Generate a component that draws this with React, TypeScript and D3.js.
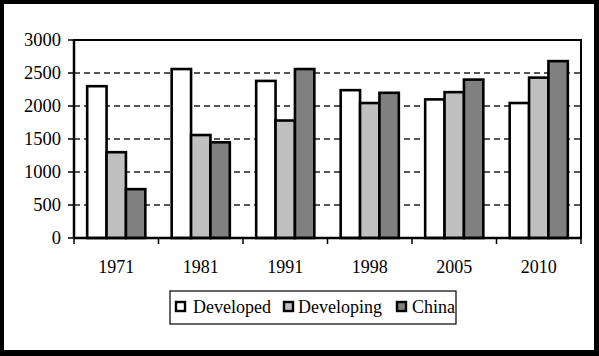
import React from "react";
import * as d3 from "d3";

const years = ["1971", "1981", "1991", "1998", "2005", "2010"];
const seriesNames = ["Developed", "Developing", "China"];
const developed = [2300, 2560, 2380, 2240, 2100, 2045];
const developing = [1300, 1560, 1780, 2045, 2210, 2430];
const china = [740, 1450, 2560, 2200, 2400, 2680];
const yTicks = [0, 500, 1000, 1500, 2000, 2500, 3000];
const colors = ["#ffffff", "#c0c0c0", "#808080"];

export default function App() {
  const W = 599, H = 356;
  const left = 74, right = 581, top = 40, bottom = 238;
  const x = d3.scaleBand<string>().domain(years).range([left, right]).paddingInner(0).paddingOuter(0);
  const inner = d3.scaleBand<string>().domain(seriesNames).range([0, x.bandwidth()]).paddingOuter(0.68).paddingInner(0);
  const y = d3.scaleLinear().domain([0, 3000]).range([bottom, top]);
  const values = [developed, developing, china];
  const fontStyle = { fontFamily: "'Liberation Serif', 'Times New Roman', serif" };

  const legendItems = [
    { name: seriesNames[0], sx: 176, tx: 193 },
    { name: seriesNames[1], sx: 284, tx: 298 },
    { name: seriesNames[2], sx: 397, tx: 412 },
  ];

  return (
    <svg width={W} height={H} style={{ position: "absolute", left: 0, top: 0 }}>
      <rect x={0} y={0} width={W} height={H} fill="#000" />
      <rect x={4} y={4} width={590} height={346} fill="#fff" />
      {yTicks.filter((t) => t > 0 && t < 3000).map((t) => (
        <line key={t} x1={left} x2={right} y1={y(t)} y2={y(t)} stroke="#222" strokeWidth={1.3} strokeDasharray="6,4" />
      ))}
      <rect x={left} y={top} width={right - left} height={bottom - top} fill="none" stroke="#000" strokeWidth={2} />
      {years.map((yr, i) => (
        <g key={yr}>
          {values.map((vals, s) => {
            const bx = (x(yr) ?? 0) + (inner(seriesNames[s]) ?? 0);
            return (
              <rect key={s} x={bx} y={y(vals[i])} width={inner.bandwidth()} height={bottom - y(vals[i])}
                fill={colors[s]} stroke="#000" strokeWidth={2.6} />
            );
          })}
        </g>
      ))}
      <line x1={left} x2={left} y1={top} y2={bottom} stroke="#000" strokeWidth={2.5} />
      <line x1={left} x2={right} y1={bottom} y2={bottom} stroke="#000" strokeWidth={2.5} />
      {yTicks.map((t) => (
        <g key={t}>
          <line x1={left - 6} x2={left} y1={y(t)} y2={y(t)} stroke="#000" strokeWidth={1.5} />
          <text x={61} y={y(t)} dy="0.34em" textAnchor="end" style={fontStyle} fontSize={18.5} fill="#000">{t}</text>
        </g>
      ))}
      {years.map((yr, i) => (
        <line key={"t" + i} x1={x(yr)!} x2={x(yr)!} y1={bottom} y2={bottom + 6} stroke="#000" strokeWidth={1.5} />
      ))}
      <line x1={right} x2={right} y1={bottom} y2={bottom + 6} stroke="#000" strokeWidth={1.5} />
      {years.map((yr) => (
        <text key={"l" + yr} x={(x(yr) ?? 0) + x.bandwidth() / 2} y={272.5} textAnchor="middle" style={fontStyle} fontSize={18} fill="#000">{yr}</text>
      ))}
      <rect x={170} y={291} width={286} height={33} fill="#fff" stroke="#000" strokeWidth={1.2} />
      {legendItems.map((it, s) => (
        <g key={it.name}>
          <rect x={it.sx} y={302} width={9} height={9} fill={colors[s]} stroke="#000" strokeWidth={2.4} />
          <text x={it.tx} y={313} style={fontStyle} fontSize={18} fill="#000">{it.name}</text>
        </g>
      ))}
    </svg>
  );
}
